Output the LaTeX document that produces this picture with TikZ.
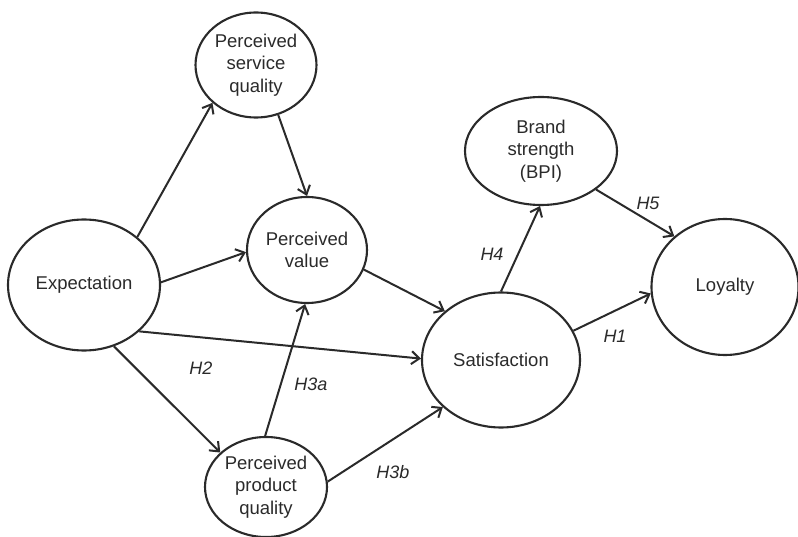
\documentclass[tikz,border=0pt]{standalone}
\usepackage{fontspec}
\setmainfont{Liberation Sans}
\usetikzlibrary{shapes.geometric,arrows.meta}
\definecolor{ink}{HTML}{2A2A2A}
\tikzset{
  lv/.style={ellipse, draw=ink, line width=2.1pt, inner sep=0pt, align=center,
    text=ink, font=\fontsize{18.5}{22.5}\selectfont},
  arr/.style={draw=ink, line width=2pt, -{Straight Barb[length=8pt,width=13pt,line width=2pt]}},
  hyp/.style={text=ink, font=\fontsize{18}{22}\selectfont\itshape, inner sep=0pt}
}
\begin{document}
\begin{tikzpicture}[x=1pt,y=-1pt]
\useasboundingbox (0,0) rectangle (798,537);
\node[lv, minimum width=152pt, minimum height=131pt] (E) at (84,285) {Expectation};
\node[lv, minimum width=121pt, minimum height=105pt] (SQ) at (256,65) {Perceived\\service\\quality};
\node[lv, minimum width=120pt, minimum height=106pt] (PV) at (307,250) {Perceived\\value};
\node[lv, minimum width=122pt, minimum height=100pt] (PQ) at (266,487) {Perceived\\product\\quality};
\node[lv, minimum width=158pt, minimum height=135pt] (S) at (501,360) {Satisfaction};
\node[lv, minimum width=152pt, minimum height=108pt] (B) at (541,151) {Brand\\strength\\(BPI)};
\node[lv, minimum width=147pt, minimum height=136pt] (L) at (725,287) {Loyalty};

\draw[arr] (E.42) -- (SQ.221);
\draw[arr] (E.2) -- (PV.182);
\draw[arr] (E.-40) -- (S.179);
\draw[arr] (E.-64) -- (PQ.143);
\draw[arr] (SQ.-66) -- (PV.90);
\draw[arr] (PQ.91) -- (PV.268);
\draw[arr] (PV.-19) -- (S.139);
\draw[arr] (PQ.5) -- (S.219);
\draw[arr] (S.90) -- (B.269);
\draw[arr] (B.-35) -- (L.135);
\draw[arr] (S.22) -- (L.185);

\node[hyp] (h2) at (201,368) {H2};
\node[hyp] (h3a) at (311,384) {H3a};
\node[hyp] (h3b) at (393,472) {H3b};
\node[hyp] (h4) at (492,254) {H4};
\node[hyp] (h5) at (648,203) {H5};
\node[hyp] (h1) at (615,336) {H1};
\end{tikzpicture}
\end{document}
